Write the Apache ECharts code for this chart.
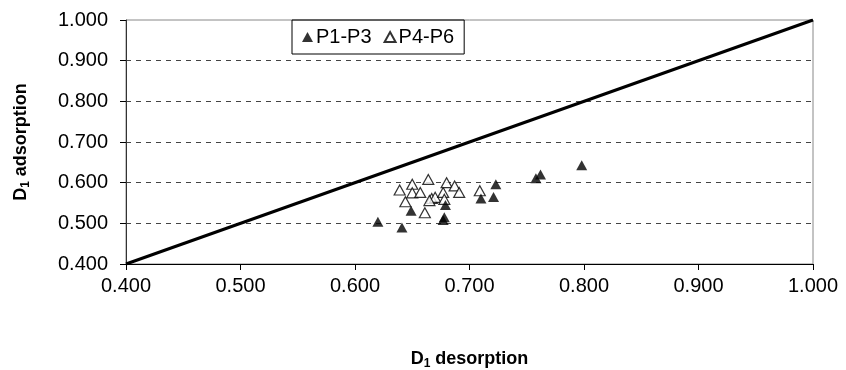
<!DOCTYPE html>
<html><head><meta charset="utf-8">
<script src="https://cdn.jsdelivr.net/npm/echarts@6/dist/echarts.min.js"></script>
<style>html,body{margin:0;padding:0;background:#fff}#c{width:846px;height:370px}</style>
</head><body><div id="c"></div>
<script>
const xTicks = [0.4, 0.5, 0.6, 0.7, 0.8, 0.9, 1.0];
const yTicks = [0.4, 0.5, 0.6, 0.7, 0.8, 0.9, 1.0];
const seriesNames = ['P1-P3', 'P4-P6'];
const p13 = [
  [0.620, 0.504], [0.641, 0.490], [0.649, 0.531], [0.679, 0.545], [0.678, 0.515],
  [0.677, 0.508], [0.710, 0.561], [0.721, 0.565], [0.723, 0.596], [0.758, 0.611],
  [0.762, 0.620], [0.798, 0.643]
];
const p46 = [
  [0.639, 0.582], [0.650, 0.596], [0.650, 0.575], [0.657, 0.576], [0.644, 0.553],
  [0.664, 0.608], [0.661, 0.526], [0.667, 0.561], [0.670, 0.564], [0.677, 0.576],
  [0.678, 0.559], [0.680, 0.600], [0.687, 0.592], [0.691, 0.576], [0.709, 0.580],
  [0.665, 0.556]
];
const diagonal = [[0.4, 0.4], [1.0, 1.0]];

const font = 'Liberation Sans, Arial, sans-serif';
const chart = echarts.init(document.getElementById('c'));
chart.setOption({
  animation: false,
  backgroundColor: '#fff',
  textStyle: { fontFamily: font },
  grid: { left: 126, top: 20, right: 33, bottom: 106, show: true, borderColor: '#888', borderWidth: 1,
    outerBoundsMode: 'none', containLabel: false },
  legend: {
    data: seriesNames,
    left: 292, top: 20,
    padding: [7, 10, 7, 10],
    borderColor: '#000', borderWidth: 1,
    itemWidth: 11, itemHeight: 10, itemGap: 12,
    textStyle: { fontFamily: font, fontSize: 20, color: '#000', padding: [0, 0, 0, -2] }
  },
  xAxis: {
    type: 'value', min: 0.4, max: 1.0, interval: 0.1,
    name: 'D{s|1} desorption', nameLocation: 'middle', nameGap: 85,
    nameTextStyle: { fontFamily: font, fontSize: 18, fontWeight: 'bold', color: '#000',
      rich: { s: { fontSize: 12, fontWeight: 'bold', verticalAlign: 'bottom', padding: [9, 0, 0, 0] } } },
    axisLine: { show: true, onZero: false, lineStyle: { color: '#000', width: 1 } },
    axisTick: { show: true, length: 6, lineStyle: { color: '#000' } },
    axisLabel: { fontSize: 20, color: '#000', margin: 12,
      formatter: v => xTicks.find(t => Math.abs(t - v) < 1e-9).toFixed(3) },
    splitLine: { show: false }
  },
  yAxis: {
    type: 'value', min: 0.4, max: 1.0, interval: 0.1,
    name: 'D{s|1} adsorption', nameLocation: 'middle', nameGap: 94,
    nameTextStyle: { fontFamily: font, fontSize: 18, fontWeight: 'bold', color: '#000',
      rich: { s: { fontSize: 12, fontWeight: 'bold', verticalAlign: 'bottom', padding: [9, 0, 0, 0] } } },
    axisLine: { show: true, onZero: false, lineStyle: { color: '#333', width: 1 } },
    axisTick: { show: true, length: 6, lineStyle: { color: '#000' } },
    axisLabel: { fontSize: 20, color: '#000', margin: 18,
      formatter: v => yTicks.find(t => Math.abs(t - v) < 1e-9).toFixed(3) },
    splitLine: { show: true, lineStyle: {
      color: ['#444', '#444', '#444', '#444', '#444', '#444', 'rgba(0,0,0,0)'],
      type: [5, 5], width: 1 } }
  },
  series: [
    {
      type: 'line', data: diagonal, symbol: 'none', silent: true,
      lineStyle: { color: '#000', width: 3 }, z: 1
    },
    {
      name: seriesNames[0], type: 'scatter', data: p13,
      symbol: 'triangle', symbolSize: [11, 10],
      itemStyle: { color: '#000' }, z: 3
    },
    {
      name: seriesNames[1], type: 'scatter', data: p46,
      symbol: 'triangle', symbolSize: [11, 10],
      itemStyle: { color: '#fff', borderColor: '#000', borderWidth: 1.2 }, z: 2
    }
  ]
});
</script></body></html>
